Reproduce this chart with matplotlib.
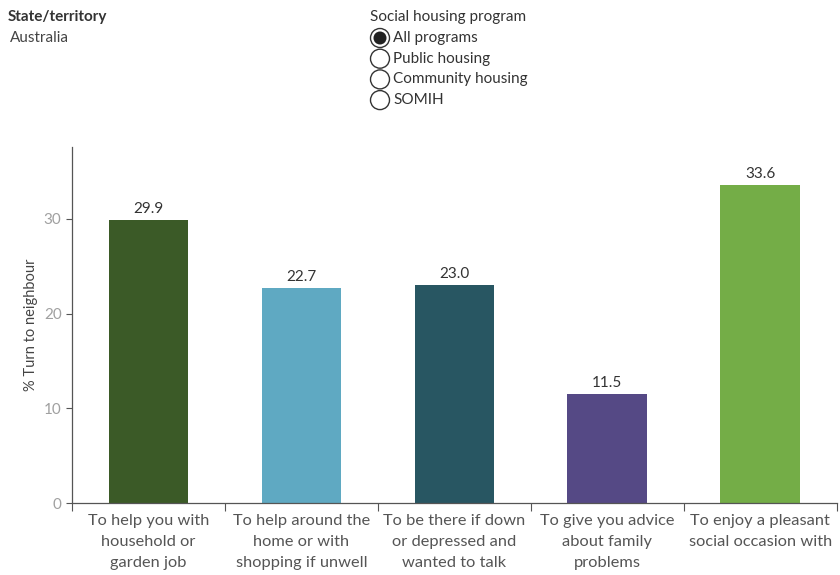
import numpy as np
import matplotlib.pyplot as plt
from matplotlib.patches import Circle

# reasons for turning to a neighbour (% of social housing tenants)
reasons = ['To help you with\nhousehold or\ngarden job',
           'To help around the\nhome or with\nshopping if unwell',
           'To be there if down\nor depressed and\nwanted to talk',
           'To give you advice\nabout family\nproblems',
           'To enjoy a pleasant\nsocial occasion with']
pct = [29.9, 22.7, 23.0, 11.5, 33.6]
bar_colors = ['#3b5a27', '#5fa9c2', '#285662', '#554985', '#74ad47']
programs = ['All programs', 'Public housing', 'Community housing', 'SOMIH']
selected = 'All programs'

plt.rcParams['font.family'] = ['Lato', 'DejaVu Sans']

fig = plt.figure(figsize=(8.4, 5.75), dpi=100)
ax = fig.add_axes([0.0857, 0.1252, 0.9103, 0.6191])

x = np.arange(len(pct)) + 0.5
bars = ax.bar(x, pct, width=0.52, color=bar_colors)
for xi, v in zip(x, pct):
  ax.text(xi, v + 0.45, f'{v:.1f}', ha='center', va='bottom', fontsize=11, color='#333333')

ax.set_xlim(0, len(pct))
ax.set_ylim(0, 37.6)
ax.set_yticks([0, 10, 20, 30])
ax.tick_params(axis='y', colors='#555555', labelcolor='#a0a0a0', labelsize=11, length=4, width=0.8)
ax.set_xticks(np.arange(len(pct) + 1))
ax.set_xticklabels([])
ax.set_xticks(x, minor=True)
ax.set_xticklabels(reasons, minor=True, fontsize=11.8, color='#555555', linespacing=1.65)
ax.tick_params(axis='x', which='major', length=6, width=0.8, colors='#555555')
ax.tick_params(axis='x', which='minor', length=0, pad=8)
for s in ['top', 'right']:
  ax.spines[s].set_visible(False)
for s in ['left', 'bottom']:
  ax.spines[s].set_color('#555555')
  ax.spines[s].set_linewidth(0.9)
ax.set_ylabel('% Turn to neighbour', fontsize=10.5, color='#444444', labelpad=4)

# filter widgets across the top
top = fig.add_axes([0, 0, 1, 1], zorder=-1)
top.set_xlim(0, 840)
top.set_ylim(575, 0)
top.set_aspect('equal')
top.axis('off')
top.text(8, 17, 'State/territory', fontsize=11, fontweight='bold', color='#333333', va='center')
top.text(10, 38, 'Australia', fontsize=11, color='#444444', va='center')
top.text(370, 17, 'Social housing program', fontsize=11, color='#333333', va='center')
for i, name in enumerate(programs):
  cy = 38 + i * 20.7
  top.add_patch(Circle((380, cy), 9.5, facecolor='white', edgecolor='#333333', lw=1.0))
  if name == selected:
    top.add_patch(Circle((380, cy), 6.5, facecolor='#222222', edgecolor='none'))
  top.text(393, cy, name, fontsize=11, color='#333333', va='center')

fig.savefig('out.png', dpi=100)
